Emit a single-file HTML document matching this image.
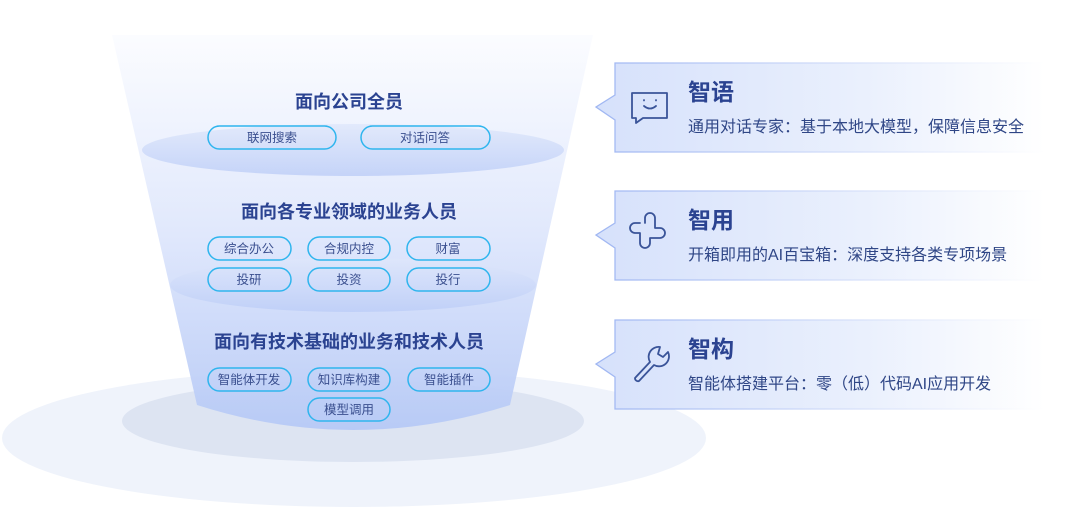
<!DOCTYPE html>
<html><head><meta charset="utf-8"><style>
html,body{margin:0;padding:0;background:#fff;}
body{width:1080px;height:516px;overflow:hidden;font-family:"Liberation Sans","Noto Sans CJK SC",sans-serif;}
</style></head><body>
<svg width="1080" height="516" viewBox="0 0 1080 516" xmlns="http://www.w3.org/2000/svg" font-family="Liberation Sans, Noto Sans CJK SC, sans-serif">
<defs>
<linearGradient id="fun" x1="0" y1="0" x2="0" y2="1">
<stop offset="0" stop-color="#fbfcff"/><stop offset="0.5" stop-color="#dfe7fc"/><stop offset="1" stop-color="#b6c9f6"/>
</linearGradient>
<linearGradient id="e1" x1="0" y1="0" x2="0" y2="1">
<stop offset="0" stop-color="#dfe7fb"/><stop offset="1" stop-color="#bccdf7"/>
</linearGradient>
<linearGradient id="card" x1="0" y1="0" x2="1" y2="0">
<stop offset="0" stop-color="#d6e1fb"/><stop offset="0.6" stop-color="#eaf0fd"/><stop offset="1" stop-color="#ffffff"/>
</linearGradient>
<linearGradient id="bord" x1="0" y1="0" x2="1" y2="0">
<stop offset="0" stop-color="#9fb6f2"/><stop offset="1" stop-color="#ffffff"/>
</linearGradient>
</defs>
<ellipse cx="354" cy="438" rx="352" ry="69" fill="#eff3fb"/>
<ellipse cx="353" cy="421" rx="231" ry="41" fill="#dde4f2"/>
<path d="M112 35 L593 35 L510 405 Q353 455 197 405 Z" fill="url(#fun)" opacity="0.95"/>
<ellipse cx="353" cy="150" rx="211" ry="26" fill="url(#e1)" opacity="0.8"/>
<ellipse cx="353" cy="285" rx="183" ry="27" fill="url(#e1)" opacity="0.8"/>
<g font-weight="bold" fill="#2b4391" text-anchor="middle" font-size="18">
<text x="349" y="108">面向公司全员</text>
<text x="349" y="218">面向各专业领域的业务人员</text>
<text x="349" y="348">面向有技术基础的业务和技术人员</text>
</g>
<g fill="none" stroke="#2fb5ee" stroke-width="1.5">
<rect x="208" y="126" width="128" height="23" rx="11.5"/>
<rect x="361" y="126" width="129" height="23" rx="11.5"/>
<rect x="208" y="237" width="83" height="23" rx="11.5"/>
<rect x="308" y="237" width="82" height="23" rx="11.5"/>
<rect x="407" y="237" width="83" height="23" rx="11.5"/>
<rect x="208" y="268" width="83" height="23" rx="11.5"/>
<rect x="308" y="268" width="82" height="23" rx="11.5"/>
<rect x="407" y="268" width="83" height="23" rx="11.5"/>
<rect x="208" y="368" width="83" height="23" rx="11.5"/>
<rect x="308" y="368" width="82" height="23" rx="11.5"/>
<rect x="408" y="368" width="82" height="23" rx="11.5"/>
<rect x="308" y="398" width="82" height="23" rx="11.5"/>
</g>
<g fill="#3a4f8f" text-anchor="middle" font-size="12.5">
<text x="272" y="142">联网搜索</text><text x="425" y="142">对话问答</text>
<text x="249" y="253">综合办公</text><text x="349" y="253">合规内控</text><text x="448" y="253">财富</text>
<text x="249" y="284">投研</text><text x="349" y="284">投资</text><text x="448" y="284">投行</text>
<text x="249" y="384">智能体开发</text><text x="349" y="384">知识库构建</text><text x="449" y="384">智能插件</text>
<text x="349" y="414">模型调用</text>
</g>
<g>
<g>
<path d="M615 63 H1045 V152 H615 V120 L596 107 L615 95 Z" fill="url(#card)"/>
<path d="M1045 63 H615 V95 L596 107 L615 120 V152 H1045" fill="none" stroke="url(#bord)" stroke-width="1.3"/>
</g>
<g transform="translate(0,128)">
<path d="M615 63 H1045 V152 H615 V120 L596 107 L615 95 Z" fill="url(#card)"/>
<path d="M1045 63 H615 V95 L596 107 L615 120 V152 H1045" fill="none" stroke="url(#bord)" stroke-width="1.3"/>
</g>
<g transform="translate(0,257)">
<path d="M615 63 H1045 V152 H615 V120 L596 107 L615 95 Z" fill="url(#card)"/>
<path d="M1045 63 H615 V95 L596 107 L615 120 V152 H1045" fill="none" stroke="url(#bord)" stroke-width="1.3"/>
</g>
</g>
<g fill="none" stroke="#3a5499" stroke-width="1.8" stroke-linecap="round" stroke-linejoin="round">
<path d="M632 93 H667 V118 H643 L636 123 V118 H632 Z"/>
<path d="M644 106 Q650 111 656 106"/><path d="M644 100 v0.5 M656 100 v0.5"/>
<path d="M645 223 v-5 a5 5 0 0 1 10 0 v10 h5 a5 5 0 0 1 0 10 h-10 v5 a5 5 0 0 1 -10 0 v-10 h-5 a5 5 0 0 1 0 -10 h5"/>
<path d="M635 378 L650 362 A10 10 0 0 1 660 347 L658 354 L663 357 L668 352 A10 10 0 0 1 654 365 L639 381 A3 3 0 0 1 635 378 Z"/>
</g>
<g fill="#2b4391">
<text x="688" y="100" font-size="23" font-weight="bold">智语</text>
<text x="688" y="228" font-size="23" font-weight="bold">智用</text>
<text x="688" y="357" font-size="23" font-weight="bold">智构</text>
<text x="688" y="132" font-size="16" fill="#2f4686">通用对话专家：基于本地大模型，保障信息安全</text>
<text x="688" y="260" font-size="16" fill="#2f4686">开箱即用的AI百宝箱：深度支持各类专项场景</text>
<text x="688" y="389" font-size="16" fill="#2f4686">智能体搭建平台：零（低）代码AI应用开发</text>
</g>
</svg>
</body></html>
